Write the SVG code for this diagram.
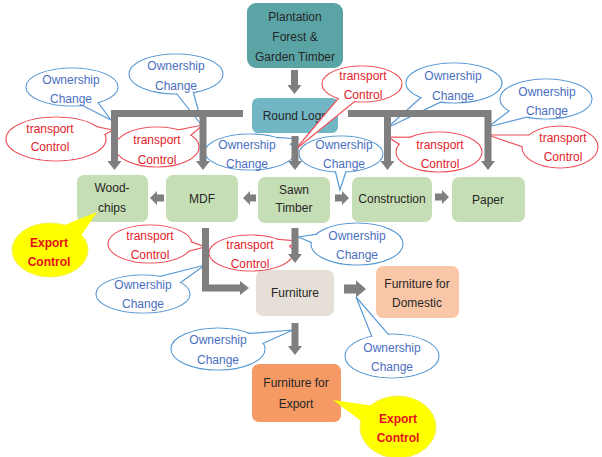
<svg xmlns="http://www.w3.org/2000/svg" width="602" height="457" viewBox="0 0 602 457">
<defs>
<style>
text{font-family:"Liberation Sans",Arial,sans-serif;font-size:12px;text-anchor:middle}
.nt{fill:#262626}
.bt{fill:#4a6fbf}
.rt{fill:#e3202a}
.et{fill:#e3101c;font-weight:bold}
.bo{fill:#fff;stroke:#5b9bd5;stroke-width:1.2}
.ro{fill:#fff;stroke:#f0505a;stroke-width:1.2}
.in{fill:#fff;stroke:none}
.ye{fill:#ffff00;stroke:#f4f060;stroke-width:1}
.yi{fill:#ffff00;stroke:none}
.green{fill:#c6deb5}
.ln{fill:none;stroke:#7f7f7f;stroke-width:7;marker-end:url(#ah)}
.blk{fill:#7f7f7f}
</style>
<marker id="ah" markerUnits="userSpaceOnUse" viewBox="0 0 9 14" markerWidth="9" markerHeight="14" refX="0" refY="7" orient="auto">
<path d="M0,0 L9,7 L0,14 z" fill="#7f7f7f"/>
</marker>
</defs>
<rect width="602" height="457" fill="#fff"/>

<g id="n-plantation">
<rect x="247" y="3" width="96" height="65" rx="9" fill="#5aa4a6"/>
<text class="nt" x="295" y="21">Plantation</text>
<text class="nt" x="295" y="41">Forest &amp;</text>
<text class="nt" x="295" y="61">Garden Timber</text>
</g>
<g id="n-roundlogs">
<rect x="252" y="98" width="86" height="35" rx="6" fill="#72b6c6"/>
<text class="nt" x="295" y="120">Round Logs</text>
</g>
<g id="n-woodchips">
<rect class="green" x="77" y="175" width="71" height="47" rx="7"/>
<text class="nt" x="112" y="192">Wood-</text>
<text class="nt" x="112" y="212">chips</text>
</g>
<g id="n-mdf">
<rect class="green" x="166" y="175" width="72" height="47" rx="7"/>
<text class="nt" x="202" y="203">MDF</text>
</g>
<g id="n-sawn">
<rect class="green" x="258" y="177" width="72" height="46" rx="7"/>
<text class="nt" x="294" y="194">Sawn</text>
<text class="nt" x="294" y="212">Timber</text>
</g>
<g id="n-construction">
<rect class="green" x="352" y="177" width="80" height="45" rx="7"/>
<text class="nt" x="392" y="203">Construction</text>
</g>
<g id="n-paper">
<rect class="green" x="452" y="177" width="73" height="45" rx="7"/>
<text class="nt" x="488" y="204">Paper</text>
</g>
<g id="n-furniture">
<rect x="256" y="270" width="78" height="46" rx="7" fill="#e6dfd7"/>
<text class="nt" x="295" y="297">Furniture</text>
</g>
<g id="n-domestic">
<rect x="376" y="266" width="83" height="52" rx="7" fill="#f9c6a7"/>
<text class="nt" x="417" y="288">Furniture for</text>
<text class="nt" x="417" y="307">Domestic</text>
</g>
<g id="n-export">
<rect x="252" y="364" width="89" height="58" rx="7" fill="#f59a64"/>
<text class="nt" x="296" y="387">Furniture for</text>
<text class="nt" x="296" y="408">Export</text>
</g>

<g id="callouts">
<g id="b1"><ellipse class="bo" cx="72" cy="87" rx="46" ry="19"/><polygon class="bo" points="64.2,96.2 111,120 79.8,77.8"/><ellipse class="in" cx="72" cy="87" rx="45.3" ry="18.3"/><text class="bt" x="71" y="84">Ownership</text><text class="bt" x="71" y="103">Change</text></g>
<g id="b2"><ellipse class="bo" cx="176" cy="74" rx="47" ry="20"/><polygon class="bo" points="165.3,79.4 203,127 186.7,68.6"/><ellipse class="in" cx="176" cy="74" rx="46.3" ry="19.3"/><text class="bt" x="176" y="70">Ownership</text><text class="bt" x="176" y="90">Change</text></g>
<g id="b3"><ellipse class="bo" cx="250" cy="152" rx="45" ry="18"/><polygon class="bo" points="280.8,150.9 298,139 277.2,137.3"/><ellipse class="in" cx="250" cy="152" rx="44.3" ry="17.3"/><text class="bt" x="247" y="149">Ownership</text><text class="bt" x="247" y="168">Change</text></g>
<g id="b4"><ellipse class="bo" cx="341" cy="154" rx="42" ry="18"/><polygon class="bo" points="333,162 340,190 349,162"/><ellipse class="in" cx="341" cy="154" rx="41.3" ry="17.3"/><text class="bt" x="344" y="149">Ownership</text><text class="bt" x="344" y="168">Change</text></g>
<g id="b5"><ellipse class="bo" cx="454" cy="83" rx="48" ry="20"/><polygon class="bo" points="440.1,80.3 387,128 451.3,96.9"/><ellipse class="in" cx="454" cy="83" rx="47.3" ry="19.3"/><text class="bt" x="453" y="80">Ownership</text><text class="bt" x="453" y="100">Change</text></g>
<g id="b6"><ellipse class="bo" cx="546" cy="99" rx="46" ry="20"/><polygon class="bo" points="528.1,96.5 488,127 536.9,114.5"/><ellipse class="in" cx="546" cy="99" rx="45.3" ry="19.3"/><text class="bt" x="547" y="96">Ownership</text><text class="bt" x="547" y="115">Change</text></g>
<g id="b7"><ellipse class="bo" cx="357" cy="244" rx="46" ry="21"/><polygon class="bo" points="328.1,232.6 298,237 326.3,248.4"/><ellipse class="in" cx="357" cy="244" rx="45.3" ry="20.3"/><text class="bt" x="357" y="240">Ownership</text><text class="bt" x="357" y="259">Change</text></g>
<g id="b8"><ellipse class="bo" cx="143" cy="294" rx="47" ry="19"/><polygon class="bo" points="160.8,296.7 205,265 152.4,278.5"/><ellipse class="in" cx="143" cy="294" rx="46.3" ry="18.3"/><text class="bt" x="143" y="289">Ownership</text><text class="bt" x="143" y="308">Change</text></g>
<g id="b9"><ellipse class="bo" cx="218" cy="349" rx="47" ry="21"/><polygon class="bo" points="244.4,351.6 293,330 240,334.2"/><ellipse class="in" cx="218" cy="349" rx="46.3" ry="20.3"/><text class="bt" x="218" y="344">Ownership</text><text class="bt" x="218" y="364">Change</text></g>
<g id="b10"><ellipse class="bo" cx="392" cy="356" rx="47" ry="22"/><polygon class="bo" points="395.3,342.3 356,297 378.3,352.7"/><ellipse class="in" cx="392" cy="356" rx="46.3" ry="21.3"/><text class="bt" x="392" y="352">Ownership</text><text class="bt" x="392" y="371">Change</text></g>

<g id="r1"><ellipse class="ro" cx="56" cy="139" rx="50" ry="22"/><polygon class="ro" points="92.9,141.3 113,130 90.3,125.5"/><ellipse class="in" cx="56" cy="139" rx="49.3" ry="21.3"/><text class="rt" x="50" y="133">transport</text><text class="rt" x="50" y="151">Control</text></g>
<g id="r2"><ellipse class="ro" cx="157" cy="147" rx="42" ry="20"/><polygon class="ro" points="178.4,145.6 203,125 171.6,131.2"/><ellipse class="in" cx="157" cy="147" rx="41.3" ry="19.3"/><text class="rt" x="157" y="144">transport</text><text class="rt" x="157" y="164">Control</text></g>
<g id="r3"><ellipse class="ro" cx="362" cy="84" rx="40" ry="18"/><polygon class="ro" points="349.3,85.3 295,150 360.5,96.7"/><ellipse class="in" cx="362" cy="84" rx="39.3" ry="17.3"/><text class="rt" x="363" y="80">transport</text><text class="rt" x="363" y="99">Control</text></g>
<g id="r4"><ellipse class="ro" cx="439" cy="152" rx="43" ry="20"/><polygon class="ro" points="417.3,137.3 388,137 412.7,152.7"/><ellipse class="in" cx="439" cy="152" rx="42.3" ry="19.3"/><text class="rt" x="440" y="149">transport</text><text class="rt" x="440" y="168">Control</text></g>
<g id="r5"><ellipse class="ro" cx="560" cy="147" rx="38" ry="21"/><polygon class="ro" points="536.7,135 488,135 534.1,150.8"/><ellipse class="in" cx="560" cy="147" rx="37.3" ry="20.3"/><text class="rt" x="563" y="142">transport</text><text class="rt" x="563" y="161">Control</text></g>
<g id="r6"><ellipse class="ro" cx="150" cy="244" rx="42" ry="19"/><polygon class="ro" points="179.5,253.6 205,247 180.3,237.6"/><ellipse class="in" cx="150" cy="244" rx="41.3" ry="18.3"/><text class="rt" x="150" y="240">transport</text><text class="rt" x="150" y="259">Control</text></g>
<g id="r7"><ellipse class="ro" cx="251" cy="253" rx="42" ry="18"/><polygon class="ro" points="279.9,252.7 297,241 276.3,239.1"/><ellipse class="in" cx="251" cy="253" rx="41.3" ry="17.3"/><text class="rt" x="250" y="249">transport</text><text class="rt" x="250" y="268">Control</text></g>

<g id="e1"><ellipse class="ye" cx="50" cy="250" rx="38" ry="27"/><polygon class="yi" points="70.5,251.5 97,212 52.9,229.7"/><text class="et" x="49" y="247">Export</text><text class="et" x="49" y="266">Control</text></g>
<g id="e2"><ellipse class="ye" cx="398" cy="427" rx="38" ry="31"/><polygon class="yi" points="389.6,408.3 333,400 378.8,434.1"/><text class="et" x="398" y="423">Export</text><text class="et" x="398" y="442">Control</text></g>
</g>

<g id="connectors">
<path class="ln" d="M294.5 70 V85"/>
<path class="ln" d="M243 113.5 H114.5 V161"/>
<path class="ln" d="M203 117 V161"/>
<path class="ln" d="M348 113.5 H488 V161"/>
<path class="ln" d="M387.5 117 V161"/>
<path class="ln" d="M295 136 V161"/>
<path class="ln" d="M295 228 V254"/>
<path class="ln" d="M205.5 228 V288 H240"/>
<path class="ln" d="M295 323 V346"/>
<polygon class="blk" points="256,194.5 250,194.5 250,191 243,198 250,205 250,201.5 256,201.5"/>
<polygon class="blk" points="164,194.5 157,194.5 157,191 150,198 157,205 157,201.5 164,201.5"/>
<polygon class="blk" points="335,194.5 342,194.5 342,191 349,198 342,205 342,201.5 335,201.5"/>
<polygon class="blk" points="435,193.5 442,193.5 442,190 449,197 442,204 442,200.5 435,200.5"/>
<polygon class="blk" points="344,284.5 356,284.5 356,280.5 366,289 356,297.5 356,293.5 344,293.5"/>
</g>
</svg>
